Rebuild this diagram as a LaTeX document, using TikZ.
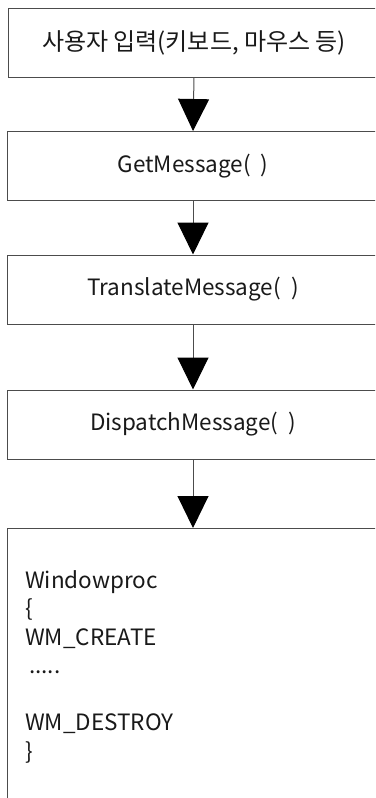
\documentclass[tikz,border=0pt]{standalone}
\usepackage{fontspec}
\setmainfont{Noto Sans CJK KR}
\usetikzlibrary{arrows.meta}

\begin{document}
\begin{tikzpicture}[x=1pt,y=-1pt,
  caixa/.style={draw=black!70,line width=1pt,minimum width=372pt,minimum height=69pt,
    inner sep=0pt,text=black!90,font=\fontsize{22.5}{28}\selectfont},
  seta/.style={draw=black!70,line width=1pt,-{Triangle[width=31pt,length=32pt,black]}}]

\useasboundingbox (0,0) rectangle (375,798);
\clip (0,0) rectangle (375,798);

% Caixas do fluxo de mensagens
\node[caixa,font=\fontsize{24}{28}\selectfont] (entrada) at (194,42.5) {사용자 입력(키보드, 마우스 등)};
\node[caixa] (getmsg) at (193,166) {GetMessage(\ \ )};
\node[caixa] (transl) at (193,289.5) {TranslateMessage(\ \ )};
\node[caixa] (dispatch) at (193,424.5) {DispatchMessage(\ \ )};

% Caixa do procedimento da janela
\node[caixa,anchor=north west,minimum height=300pt] (winproc) at (7,528) {};
\node[anchor=base west,align=left,inner sep=0pt,text=black!90,
  font=\fontsize{22.5}{28.5}\selectfont] (codigo) at (25,759)
  {Windowproc\\ \{\\ WM\_CREATE\\ \hspace*{4pt}.....\\ \strut\\ WM\_DESTROY\\ \}};

% Setas
\draw[seta] (entrada.south) -- (getmsg.north);
\draw[seta] (getmsg.south) -- (transl.north);
\draw[seta] (transl.south) -- (dispatch.north);
\draw[seta] (dispatch.south) -- (dispatch.south |- winproc.north);

\end{tikzpicture}
\end{document}
